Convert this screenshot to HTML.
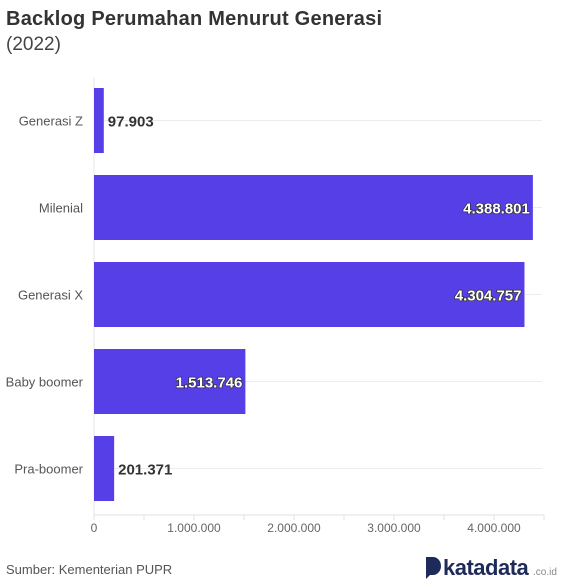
<!DOCTYPE html>
<html><head><meta charset="utf-8"><style>
body{margin:0;background:#fff;font-family:"Liberation Sans",sans-serif;}
#wrap{position:relative;width:587px;height:587px;overflow:hidden}
</style></head><body>
<div id="wrap">
<svg width="587" height="587" id="svg">
<text x="6" y="25" font-size="20" font-weight="bold" fill="#333" textLength="376">Backlog Perumahan Menurut Generasi</text>
<text x="6" y="50" font-size="19" fill="#444">(2022)</text>
<g id="grid"></g><g id="bars"></g><g id="axis"></g>
<text x="6" y="574" font-size="13" fill="#555">Sumber: Kementerian PUPR</text>
<g>
<path d="M426,557 h7 a8,9 0 0 1 0,18 h-3 l-4,4 z" fill="#1e2a5a"/>
<text x="443" y="575" font-size="22" font-weight="bold" fill="#1e2a5a" letter-spacing="-0.5">katadata</text>
<text x="533" y="575" font-size="10" fill="#888">.co.id</text>
</g>
</svg></div>
<script>
const categories=["Generasi Z","Milenial","Generasi X","Baby boomer","Pra-boomer"];
const values=[97903,4388801,4304757,1513746,201371];
const labels=["97.903","4.388.801","4.304.757","1.513.746","201.371"];
const ticks=[0,1000000,2000000,3000000,4000000];
const tickLabels=["0","1.000.000","2.000.000","3.000.000","4.000.000"];
const NS="http://www.w3.org/2000/svg";
const x=v=>94+v/10000;
const yc=i=>120.5+i*87;
function mk(t,a,p){const e=document.createElementNS(NS,t);for(const k in a)e.setAttribute(k,a[k]);p.appendChild(e);return e;}
const G=document.getElementById('grid'),B=document.getElementById('bars'),A=document.getElementById('axis');
mk('line',{x1:94,x2:94,y1:78,y2:515,stroke:'#e6e6e6'},G);
categories.forEach((c,i)=>{
 const gl=mk('line',{x1:94,x2:542,y1:yc(i),y2:yc(i),stroke:'#ececec'},G);
 
 
 const r=mk('rect',{x:94,y:yc(i)-32.5,width:x(values[i])-94,height:65,fill:'#573fe7'},B);
 
 
 const cl=mk('text',{x:83,y:yc(i)+5,'text-anchor':'end','font-size':13,fill:'#555'},A);
 cl.textContent=c;
 
 
 const inside=values[i]>1000000;
 const vl=mk('text',{x:inside?x(values[i])-3:x(values[i])+4,y:yc(i)+6,'text-anchor':inside?'end':'start','font-size':15,'font-weight':'bold',fill:inside?'#fff':'#333'},A);
 if(inside){vl.setAttribute('stroke','#333');vl.setAttribute('stroke-width','1.5');vl.setAttribute('paint-order','stroke');}
 vl.textContent=labels[i];
 
 
});
mk('line',{x1:94,x2:544,y1:515,y2:515,stroke:'#e0e0e0'},A);
for(let v=0;v<=4500000;v+=500000){mk('line',{x1:x(v),x2:x(v),y1:515,y2:520,stroke:'#e0e0e0'},A);}
ticks.forEach((t,i)=>{
 const tl=mk('text',{x:x(t),y:532,'text-anchor':'middle','font-size':12,fill:'#666'},A);
 tl.textContent=tickLabels[i];
 
 
});
</script>
</body></html>
